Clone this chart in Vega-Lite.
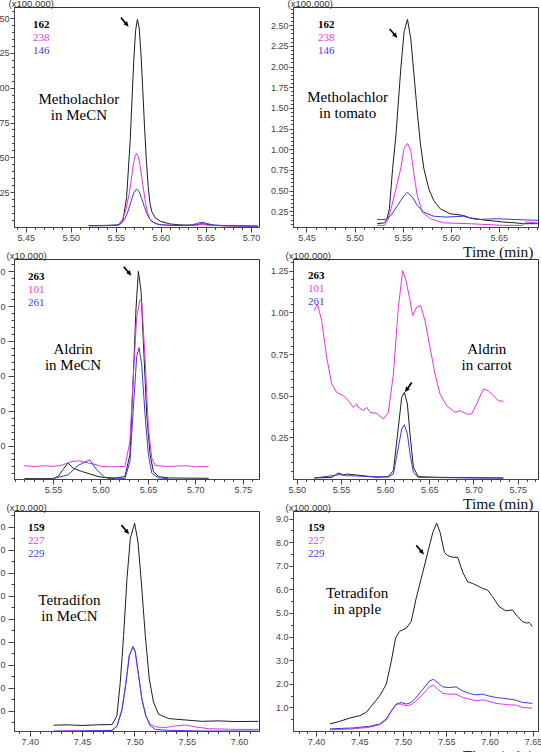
{
"$schema": "https://vega.github.io/schema/vega-lite/v6.json",
"padding": {"left": -10, "top": -3, "right": -2, "bottom": -10},
"background": "white",
"bounds": "flush",
"columns": 2,
"spacing": {"row": 32, "column": 34},
"resolve": {"scale": {"color": "independent"}, "legend": {"color": "independent"}},
"config": {
  "view": {"stroke": "#333", "strokeWidth": 1},
  "axis": {"grid": false, "labelFont": "Liberation Sans", "labelFontSize": 9, "labelColor": "#444", "tickColor": "#444", "domainColor": "#444", "labelFlush": false, "labelOverlap": false, "labelPadding": 1, "tickSize": 4,
    "titleFont": "Liberation Sans", "titleFontSize": 9.5, "titleFontWeight": "normal", "titleColor": "#333"},
  "legend": {"orient": "none", "padding": 0, "symbolSize": 0, "symbolOpacity": 0, "symbolStrokeWidth": 0, "labelOffset": 0, "labelFont": "Liberation Serif", "labelFontSize": 11, "rowPadding": 1}
},
"datasets": {
"p1": [
{"t":5.520,"y":0.010,"ion":"162"},{"t":5.530,"y":0.010,"ion":"162"},{"t":5.540,"y":0.012,"ion":"162"},{"t":5.550,"y":0.014,"ion":"162"},{"t":5.554,"y":0.018,"ion":"162"},{"t":5.558,"y":0.050,"ion":"162"},{"t":5.562,"y":0.210,"ion":"162"},{"t":5.566,"y":0.620,"ion":"162"},{"t":5.568,"y":0.910,"ion":"162"},{"t":5.570,"y":1.200,"ion":"162"},{"t":5.572,"y":1.410,"ion":"162"},{"t":5.574,"y":1.490,"ion":"162"},{"t":5.576,"y":1.430,"ion":"162"},{"t":5.578,"y":1.240,"ion":"162"},{"t":5.580,"y":0.980,"ion":"162"},{"t":5.582,"y":0.710,"ion":"162"},{"t":5.584,"y":0.470,"ion":"162"},{"t":5.586,"y":0.290,"ion":"162"},{"t":5.588,"y":0.170,"ion":"162"},{"t":5.590,"y":0.110,"ion":"162"},{"t":5.594,"y":0.065,"ion":"162"},{"t":5.600,"y":0.040,"ion":"162"},{"t":5.610,"y":0.022,"ion":"162"},{"t":5.620,"y":0.016,"ion":"162"},{"t":5.630,"y":0.013,"ion":"162"},{"t":5.640,"y":0.016,"ion":"162"},{"t":5.645,"y":0.024,"ion":"162"},{"t":5.650,"y":0.020,"ion":"162"},{"t":5.660,"y":0.012,"ion":"162"},{"t":5.680,"y":0.008,"ion":"162"},{"t":5.700,"y":0.006,"ion":"162"},{"t":5.708,"y":0.006,"ion":"162"},
{"t":5.520,"y":0.008,"ion":"238"},{"t":5.540,"y":0.010,"ion":"238"},{"t":5.550,"y":0.012,"ion":"238"},{"t":5.553,"y":0.016,"ion":"238"},{"t":5.557,"y":0.050,"ion":"238"},{"t":5.561,"y":0.120,"ion":"238"},{"t":5.565,"y":0.240,"ion":"238"},{"t":5.567,"y":0.330,"ion":"238"},{"t":5.569,"y":0.426,"ion":"238"},{"t":5.571,"y":0.502,"ion":"238"},{"t":5.573,"y":0.528,"ion":"238"},{"t":5.575,"y":0.506,"ion":"238"},{"t":5.577,"y":0.440,"ion":"238"},{"t":5.579,"y":0.350,"ion":"238"},{"t":5.581,"y":0.260,"ion":"238"},{"t":5.583,"y":0.175,"ion":"238"},{"t":5.585,"y":0.110,"ion":"238"},{"t":5.587,"y":0.068,"ion":"238"},{"t":5.590,"y":0.038,"ion":"238"},{"t":5.595,"y":0.022,"ion":"238"},{"t":5.600,"y":0.015,"ion":"238"},{"t":5.620,"y":0.010,"ion":"238"},{"t":5.640,"y":0.013,"ion":"238"},{"t":5.645,"y":0.018,"ion":"238"},{"t":5.650,"y":0.014,"ion":"238"},{"t":5.670,"y":0.008,"ion":"238"},{"t":5.708,"y":0.005,"ion":"238"},
{"t":5.520,"y":0.010,"ion":"146"},{"t":5.540,"y":0.010,"ion":"146"},{"t":5.552,"y":0.012,"ion":"146"},{"t":5.556,"y":0.025,"ion":"146"},{"t":5.560,"y":0.055,"ion":"146"},{"t":5.564,"y":0.120,"ion":"146"},{"t":5.567,"y":0.185,"ion":"146"},{"t":5.570,"y":0.245,"ion":"146"},{"t":5.573,"y":0.272,"ion":"146"},{"t":5.576,"y":0.255,"ion":"146"},{"t":5.579,"y":0.200,"ion":"146"},{"t":5.582,"y":0.140,"ion":"146"},{"t":5.585,"y":0.090,"ion":"146"},{"t":5.588,"y":0.055,"ion":"146"},{"t":5.592,"y":0.032,"ion":"146"},{"t":5.598,"y":0.018,"ion":"146"},{"t":5.610,"y":0.012,"ion":"146"},{"t":5.625,"y":0.011,"ion":"146"},{"t":5.635,"y":0.015,"ion":"146"},{"t":5.640,"y":0.026,"ion":"146"},{"t":5.645,"y":0.034,"ion":"146"},{"t":5.650,"y":0.028,"ion":"146"},{"t":5.657,"y":0.015,"ion":"146"},{"t":5.670,"y":0.010,"ion":"146"},{"t":5.690,"y":0.008,"ion":"146"},{"t":5.708,"y":0.006,"ion":"146"}
],
"p2": [
{"t":5.5235,"y":0.10,"ion":"162"},{"t":5.531,"y":0.11,"ion":"162"},{"t":5.5335,"y":0.15,"ion":"162"},{"t":5.5362,"y":0.28,"ion":"162"},{"t":5.5396,"y":0.77,"ion":"162"},{"t":5.543,"y":1.17,"ion":"162"},{"t":5.5481,"y":1.98,"ion":"162"},{"t":5.5515,"y":2.42,"ion":"162"},{"t":5.555,"y":2.57,"ion":"162"},{"t":5.5584,"y":2.34,"ion":"162"},{"t":5.5618,"y":1.90,"ion":"162"},{"t":5.5652,"y":1.45,"ion":"162"},{"t":5.5686,"y":1.05,"ion":"162"},{"t":5.572,"y":0.77,"ion":"162"},{"t":5.5772,"y":0.52,"ion":"162"},{"t":5.5823,"y":0.38,"ion":"162"},{"t":5.5891,"y":0.28,"ion":"162"},{"t":5.5994,"y":0.22,"ion":"162"},{"t":5.6131,"y":0.20,"ion":"162"},{"t":5.6199,"y":0.17,"ion":"162"},{"t":5.6268,"y":0.16,"ion":"162"},{"t":5.637,"y":0.14,"ion":"162"},{"t":5.6473,"y":0.13,"ion":"162"},{"t":5.6541,"y":0.12,"ion":"162"},{"t":5.6678,"y":0.11,"ion":"162"},{"t":5.6746,"y":0.10,"ion":"162"},{"t":5.6883,"y":0.10,"ion":"162"},{"t":5.6905,"y":0.10,"ion":"162"},
{"t":5.5235,"y":0.08,"ion":"238"},{"t":5.531,"y":0.08,"ion":"238"},{"t":5.5345,"y":0.14,"ion":"238"},{"t":5.5379,"y":0.28,"ion":"238"},{"t":5.543,"y":0.52,"ion":"238"},{"t":5.5481,"y":0.77,"ion":"238"},{"t":5.5515,"y":1.01,"ion":"238"},{"t":5.555,"y":1.07,"ion":"238"},{"t":5.5584,"y":0.99,"ion":"238"},{"t":5.5618,"y":0.69,"ion":"238"},{"t":5.5652,"y":0.44,"ion":"238"},{"t":5.5703,"y":0.24,"ion":"238"},{"t":5.5789,"y":0.16,"ion":"238"},{"t":5.5926,"y":0.11,"ion":"238"},{"t":5.6199,"y":0.10,"ion":"238"},{"t":5.6541,"y":0.08,"ion":"238"},{"t":5.6746,"y":0.08,"ion":"238"},{"t":5.678,"y":0.12,"ion":"238"},{"t":5.6905,"y":0.11,"ion":"238"},
{"t":5.5235,"y":0.15,"ion":"146"},{"t":5.5327,"y":0.15,"ion":"146"},{"t":5.5379,"y":0.20,"ion":"146"},{"t":5.5447,"y":0.32,"ion":"146"},{"t":5.5515,"y":0.44,"ion":"146"},{"t":5.555,"y":0.48,"ion":"146"},{"t":5.5601,"y":0.42,"ion":"146"},{"t":5.5652,"y":0.32,"ion":"146"},{"t":5.572,"y":0.24,"ion":"146"},{"t":5.5823,"y":0.19,"ion":"146"},{"t":5.596,"y":0.18,"ion":"146"},{"t":5.6131,"y":0.19,"ion":"146"},{"t":5.6268,"y":0.15,"ion":"146"},{"t":5.6473,"y":0.16,"ion":"146"},{"t":5.6678,"y":0.15,"ion":"146"},{"t":5.6905,"y":0.14,"ion":"146"}
],
"p3": [
{"t":5.520,"y":0.05,"ion":"263"},{"t":5.550,"y":0.05,"ion":"263"},{"t":5.5553,"y":0.11,"ion":"263"},{"t":5.5606,"y":0.31,"ion":"263"},{"t":5.5659,"y":0.50,"ion":"263"},{"t":5.5712,"y":0.35,"ion":"263"},{"t":5.580,"y":0.26,"ion":"263"},{"t":5.5976,"y":0.11,"ion":"263"},{"t":5.6117,"y":0.05,"ion":"263"},{"t":5.6258,"y":0.11,"ion":"263"},{"t":5.6311,"y":0.74,"ion":"263"},{"t":5.6347,"y":3.03,"ion":"263"},{"t":5.6375,"y":4.94,"ion":"263"},{"t":5.640,"y":6.00,"ion":"263"},{"t":5.6428,"y":5.42,"ion":"263"},{"t":5.6452,"y":3.98,"ion":"263"},{"t":5.6488,"y":1.88,"ion":"263"},{"t":5.6523,"y":0.74,"ion":"263"},{"t":5.6558,"y":0.26,"ion":"263"},{"t":5.6611,"y":0.11,"ion":"263"},{"t":5.6717,"y":0.07,"ion":"263"},{"t":5.714,"y":0.06,"ion":"263"},
{"t":5.5193,"y":0.42,"ion":"101"},{"t":5.530,"y":0.40,"ion":"101"},{"t":5.540,"y":0.42,"ion":"101"},{"t":5.550,"y":0.40,"ion":"101"},{"t":5.560,"y":0.44,"ion":"101"},{"t":5.5694,"y":0.54,"ion":"101"},{"t":5.5782,"y":0.56,"ion":"101"},{"t":5.5835,"y":0.52,"ion":"101"},{"t":5.5959,"y":0.45,"ion":"101"},{"t":5.6011,"y":0.40,"ion":"101"},{"t":5.6117,"y":0.39,"ion":"101"},{"t":5.6258,"y":0.40,"ion":"101"},{"t":5.6311,"y":1.12,"ion":"101"},{"t":5.6347,"y":3.03,"ion":"101"},{"t":5.6382,"y":4.68,"ion":"101"},{"t":5.6417,"y":5.18,"ion":"101"},{"t":5.6435,"y":5.13,"ion":"101"},{"t":5.647,"y":3.51,"ion":"101"},{"t":5.6505,"y":1.51,"ion":"101"},{"t":5.6541,"y":0.64,"ion":"101"},{"t":5.6576,"y":0.43,"ion":"101"},{"t":5.670,"y":0.40,"ion":"101"},{"t":5.690,"y":0.42,"ion":"101"},{"t":5.700,"y":0.39,"ion":"101"},{"t":5.714,"y":0.40,"ion":"101"},
{"t":5.550,"y":0.05,"ion":"261"},{"t":5.5659,"y":0.16,"ion":"261"},{"t":5.5765,"y":0.43,"ion":"261"},{"t":5.5888,"y":0.59,"ion":"261"},{"t":5.5959,"y":0.31,"ion":"261"},{"t":5.6047,"y":0.09,"ion":"261"},{"t":5.6258,"y":0.05,"ion":"261"},{"t":5.6311,"y":0.54,"ion":"261"},{"t":5.6347,"y":2.07,"ion":"261"},{"t":5.6382,"y":3.55,"ion":"261"},{"t":5.6407,"y":3.81,"ion":"261"},{"t":5.6435,"y":3.31,"ion":"261"},{"t":5.647,"y":1.88,"ion":"261"},{"t":5.6505,"y":0.74,"ion":"261"},{"t":5.6541,"y":0.21,"ion":"261"},{"t":5.6611,"y":0.07,"ion":"261"},{"t":5.6717,"y":0.05,"ion":"261"}
],
"p4": [
{"t":5.520,"y":0.006,"ion":"263"},{"t":5.540,"y":0.010,"ion":"263"},{"t":5.5471,"y":0.036,"ion":"263"},{"t":5.5528,"y":0.025,"ion":"263"},{"t":5.5566,"y":0.030,"ion":"263"},{"t":5.5679,"y":0.024,"ion":"263"},{"t":5.583,"y":0.015,"ion":"263"},{"t":5.5905,"y":0.010,"ion":"263"},{"t":5.6037,"y":0.015,"ion":"263"},{"t":5.6094,"y":0.05,"ion":"263"},{"t":5.615,"y":0.31,"ion":"263"},{"t":5.6188,"y":0.49,"ion":"263"},{"t":5.6218,"y":0.52,"ion":"263"},{"t":5.6252,"y":0.45,"ion":"263"},{"t":5.6282,"y":0.27,"ion":"263"},{"t":5.632,"y":0.07,"ion":"263"},{"t":5.6376,"y":0.014,"ion":"263"},{"t":5.660,"y":0.010,"ion":"263"},{"t":5.700,"y":0.008,"ion":"263"},{"t":5.7338,"y":0.006,"ion":"263"},
{"t":5.520,"y":1.01,"ion":"101"},{"t":5.5234,"y":1.05,"ion":"101"},{"t":5.5283,"y":0.95,"ion":"101"},{"t":5.5339,"y":0.73,"ion":"101"},{"t":5.5396,"y":0.57,"ion":"101"},{"t":5.5452,"y":0.52,"ion":"101"},{"t":5.549,"y":0.51,"ion":"101"},{"t":5.5528,"y":0.50,"ion":"101"},{"t":5.5584,"y":0.47,"ion":"101"},{"t":5.5641,"y":0.43,"ion":"101"},{"t":5.5679,"y":0.45,"ion":"101"},{"t":5.5698,"y":0.43,"ion":"101"},{"t":5.5754,"y":0.41,"ion":"101"},{"t":5.5792,"y":0.43,"ion":"101"},{"t":5.583,"y":0.40,"ion":"101"},{"t":5.5905,"y":0.394,"ion":"101"},{"t":5.598,"y":0.36,"ion":"101"},{"t":5.6037,"y":0.40,"ion":"101"},{"t":5.6094,"y":0.63,"ion":"101"},{"t":5.615,"y":1.03,"ion":"101"},{"t":5.6199,"y":1.25,"ion":"101"},{"t":5.6237,"y":1.19,"ion":"101"},{"t":5.6275,"y":1.09,"ion":"101"},{"t":5.6312,"y":0.98,"ion":"101"},{"t":5.6357,"y":1.03,"ion":"101"},{"t":5.6403,"y":1.04,"ion":"101"},{"t":5.6452,"y":0.95,"ion":"101"},{"t":5.6508,"y":0.79,"ion":"101"},{"t":5.6565,"y":0.63,"ion":"101"},{"t":5.6621,"y":0.51,"ion":"101"},{"t":5.6697,"y":0.44,"ion":"101"},{"t":5.6791,"y":0.40,"ion":"101"},{"t":5.6848,"y":0.41,"ion":"101"},{"t":5.6923,"y":0.39,"ion":"101"},{"t":5.698,"y":0.39,"ion":"101"},{"t":5.7036,"y":0.45,"ion":"101"},{"t":5.7112,"y":0.54,"ion":"101"},{"t":5.7168,"y":0.53,"ion":"101"},{"t":5.7225,"y":0.50,"ion":"101"},{"t":5.7281,"y":0.47,"ion":"101"},{"t":5.7338,"y":0.466,"ion":"101"},
{"t":5.520,"y":0.006,"ion":"261"},{"t":5.549,"y":0.026,"ion":"261"},{"t":5.5566,"y":0.020,"ion":"261"},{"t":5.5679,"y":0.018,"ion":"261"},{"t":5.583,"y":0.014,"ion":"261"},{"t":5.6037,"y":0.012,"ion":"261"},{"t":5.6094,"y":0.03,"ion":"261"},{"t":5.615,"y":0.19,"ion":"261"},{"t":5.6188,"y":0.30,"ion":"261"},{"t":5.6218,"y":0.326,"ion":"261"},{"t":5.6252,"y":0.27,"ion":"261"},{"t":5.6282,"y":0.15,"ion":"261"},{"t":5.632,"y":0.04,"ion":"261"},{"t":5.6376,"y":0.010,"ion":"261"},{"t":5.700,"y":0.006,"ion":"261"},{"t":5.7338,"y":0.005,"ion":"261"}
],
"p5": [
{"t":7.4229,"y":0.38,"ion":"159"},{"t":7.435,"y":0.40,"ion":"159"},{"t":7.450,"y":0.37,"ion":"159"},{"t":7.465,"y":0.40,"ion":"159"},{"t":7.4786,"y":0.41,"ion":"159"},{"t":7.4833,"y":0.79,"ion":"159"},{"t":7.4865,"y":2.24,"ion":"159"},{"t":7.4897,"y":4.28,"ion":"159"},{"t":7.4929,"y":6.75,"ion":"159"},{"t":7.4961,"y":8.50,"ion":"159"},{"t":7.5002,"y":9.16,"ion":"159"},{"t":7.5034,"y":8.36,"ion":"159"},{"t":7.5066,"y":6.60,"ion":"159"},{"t":7.5104,"y":4.28,"ion":"159"},{"t":7.5142,"y":2.39,"ion":"159"},{"t":7.5183,"y":1.37,"ion":"159"},{"t":7.5231,"y":0.86,"ion":"159"},{"t":7.5326,"y":0.67,"ion":"159"},{"t":7.5485,"y":0.61,"ion":"159"},{"t":7.5644,"y":0.55,"ion":"159"},{"t":7.580,"y":0.57,"ion":"159"},{"t":7.5962,"y":0.54,"ion":"159"},{"t":7.6185,"y":0.55,"ion":"159"},
{"t":7.4229,"y":0.13,"ion":"227"},{"t":7.450,"y":0.14,"ion":"227"},{"t":7.4786,"y":0.16,"ion":"227"},{"t":7.4833,"y":0.35,"ion":"227"},{"t":7.4881,"y":1.08,"ion":"227"},{"t":7.4919,"y":2.24,"ion":"227"},{"t":7.4951,"y":3.41,"ion":"227"},{"t":7.4986,"y":3.77,"ion":"227"},{"t":7.5008,"y":3.55,"ion":"227"},{"t":7.504,"y":2.53,"ion":"227"},{"t":7.5072,"y":1.51,"ion":"227"},{"t":7.511,"y":0.79,"ion":"227"},{"t":7.5151,"y":0.42,"ion":"227"},{"t":7.5199,"y":0.31,"ion":"227"},{"t":7.5295,"y":0.28,"ion":"227"},{"t":7.539,"y":0.35,"ion":"227"},{"t":7.5485,"y":0.39,"ion":"227"},{"t":7.5581,"y":0.31,"ion":"227"},{"t":7.5708,"y":0.23,"ion":"227"},{"t":7.5962,"y":0.20,"ion":"227"},{"t":7.6185,"y":0.20,"ion":"227"},
{"t":7.4229,"y":0.12,"ion":"229"},{"t":7.450,"y":0.13,"ion":"229"},{"t":7.4786,"y":0.15,"ion":"229"},{"t":7.4833,"y":0.33,"ion":"229"},{"t":7.4881,"y":1.02,"ion":"229"},{"t":7.4919,"y":2.20,"ion":"229"},{"t":7.4951,"y":3.40,"ion":"229"},{"t":7.4986,"y":3.81,"ion":"229"},{"t":7.5008,"y":3.60,"ion":"229"},{"t":7.504,"y":2.55,"ion":"229"},{"t":7.5072,"y":1.50,"ion":"229"},{"t":7.511,"y":0.76,"ion":"229"},{"t":7.5151,"y":0.36,"ion":"229"},{"t":7.5199,"y":0.20,"ion":"229"},{"t":7.5326,"y":0.16,"ion":"229"},{"t":7.5644,"y":0.13,"ion":"229"},{"t":7.6185,"y":0.13,"ion":"229"}
],
"p6": [
{"t":7.416,"y":0.30,"ion":"159"},{"t":7.4275,"y":0.41,"ion":"159"},{"t":7.439,"y":0.55,"ion":"159"},{"t":7.4505,"y":0.65,"ion":"159"},{"t":7.458,"y":0.79,"ion":"159"},{"t":7.4657,"y":1.14,"ion":"159"},{"t":7.4734,"y":1.49,"ion":"159"},{"t":7.481,"y":1.98,"ion":"159"},{"t":7.4868,"y":2.96,"ion":"159"},{"t":7.4917,"y":3.94,"ion":"159"},{"t":7.4963,"y":4.22,"ion":"159"},{"t":7.5002,"y":4.29,"ion":"159"},{"t":7.504,"y":4.36,"ion":"159"},{"t":7.5097,"y":4.64,"ion":"159"},{"t":7.5154,"y":5.62,"ion":"159"},{"t":7.5231,"y":6.73,"ion":"159"},{"t":7.5288,"y":7.57,"ion":"159"},{"t":7.5346,"y":8.41,"ion":"159"},{"t":7.5391,"y":8.81,"ion":"159"},{"t":7.543,"y":8.41,"ion":"159"},{"t":7.5479,"y":7.57,"ion":"159"},{"t":7.5518,"y":7.43,"ion":"159"},{"t":7.5575,"y":7.36,"ion":"159"},{"t":7.5632,"y":7.36,"ion":"159"},{"t":7.569,"y":6.73,"ion":"159"},{"t":7.5747,"y":6.32,"ion":"159"},{"t":7.5804,"y":6.25,"ion":"159"},{"t":7.5862,"y":6.15,"ion":"159"},{"t":7.5919,"y":6.04,"ion":"159"},{"t":7.5976,"y":5.97,"ion":"159"},{"t":7.6034,"y":5.69,"ion":"159"},{"t":7.611,"y":5.27,"ion":"159"},{"t":7.6187,"y":5.09,"ion":"159"},{"t":7.6263,"y":5.13,"ion":"159"},{"t":7.632,"y":4.85,"ion":"159"},{"t":7.6378,"y":4.64,"ion":"159"},{"t":7.6424,"y":4.57,"ion":"159"},{"t":7.6454,"y":4.60,"ion":"159"},{"t":7.6492,"y":4.43,"ion":"159"},
{"t":7.416,"y":0.05,"ion":"227"},{"t":7.4428,"y":0.09,"ion":"227"},{"t":7.4619,"y":0.16,"ion":"227"},{"t":7.4734,"y":0.27,"ion":"227"},{"t":7.481,"y":0.47,"ion":"227"},{"t":7.4868,"y":0.83,"ion":"227"},{"t":7.4925,"y":1.14,"ion":"227"},{"t":7.4982,"y":1.14,"ion":"227"},{"t":7.504,"y":1.07,"ion":"227"},{"t":7.5097,"y":1.11,"ion":"227"},{"t":7.5154,"y":1.28,"ion":"227"},{"t":7.5231,"y":1.56,"ion":"227"},{"t":7.5307,"y":1.87,"ion":"227"},{"t":7.5353,"y":1.94,"ion":"227"},{"t":7.5403,"y":1.77,"ion":"227"},{"t":7.546,"y":1.59,"ion":"227"},{"t":7.5537,"y":1.56,"ion":"227"},{"t":7.5613,"y":1.56,"ion":"227"},{"t":7.569,"y":1.42,"ion":"227"},{"t":7.5766,"y":1.35,"ion":"227"},{"t":7.5842,"y":1.28,"ion":"227"},{"t":7.5919,"y":1.32,"ion":"227"},{"t":7.5995,"y":1.25,"ion":"227"},{"t":7.6072,"y":1.17,"ion":"227"},{"t":7.6148,"y":1.14,"ion":"227"},{"t":7.6225,"y":1.11,"ion":"227"},{"t":7.6301,"y":1.10,"ion":"227"},{"t":7.6378,"y":1.00,"ion":"227"},{"t":7.6492,"y":0.97,"ion":"227"},
{"t":7.416,"y":0.09,"ion":"229"},{"t":7.4428,"y":0.13,"ion":"229"},{"t":7.4619,"y":0.20,"ion":"229"},{"t":7.4734,"y":0.30,"ion":"229"},{"t":7.481,"y":0.51,"ion":"229"},{"t":7.4868,"y":0.86,"ion":"229"},{"t":7.4925,"y":1.14,"ion":"229"},{"t":7.4982,"y":1.21,"ion":"229"},{"t":7.504,"y":1.14,"ion":"229"},{"t":7.5097,"y":1.21,"ion":"229"},{"t":7.5154,"y":1.42,"ion":"229"},{"t":7.5231,"y":1.77,"ion":"229"},{"t":7.5307,"y":2.12,"ion":"229"},{"t":7.5353,"y":2.19,"ion":"229"},{"t":7.5403,"y":2.05,"ion":"229"},{"t":7.546,"y":1.87,"ion":"229"},{"t":7.5537,"y":1.84,"ion":"229"},{"t":7.5613,"y":1.87,"ion":"229"},{"t":7.569,"y":1.70,"ion":"229"},{"t":7.5766,"y":1.59,"ion":"229"},{"t":7.5842,"y":1.53,"ion":"229"},{"t":7.5919,"y":1.56,"ion":"229"},{"t":7.5995,"y":1.48,"ion":"229"},{"t":7.6072,"y":1.42,"ion":"229"},{"t":7.6148,"y":1.39,"ion":"229"},{"t":7.6225,"y":1.35,"ion":"229"},{"t":7.6301,"y":1.31,"ion":"229"},{"t":7.6378,"y":1.21,"ion":"229"},{"t":7.6492,"y":1.17,"ion":"229"}
]
},
"concat": [
{
 "width": 245, "height": 220, "data": {"name": "p1"},
 "resolve": {"axis": {"x": "independent", "y": "independent"}},
 "layer": [
  {"mark": {"type": "line", "strokeWidth": 1, "clip": true},
   "encoding": {
    "x": {"field": "t", "type": "quantitative", "scale": {"domain": [5.437, 5.709], "nice": false, "zero": false},
      "axis": {"orient": "bottom", "values": [5.45,5.5,5.55,5.6,5.65,5.7], "format": ".2f", "title": null, "tickSize": 5}},
    "y": {"field": "y", "type": "quantitative", "scale": {"domain": [0, 1.579], "nice": false, "zero": false},
      "axis": {"orient": "left", "values": [0.25,0.5,0.75,1,1.25,1.5], "format": ".2f", "title": "(x100,000)", "titleAngle": 0, "titleX": -6, "titleY": -1, "titleAlign": "left", "titleBaseline": "alphabetic"}},
    "color": {"field": "ion", "type": "nominal", "scale": {"domain": ["162","238","146"], "range": ["#1e1e1e","#e433e4","#3b3bd9"]},
      "legend": {"title": null, "orient": "none", "legendX": 8, "legendY": 12, "encode": {"labels": {"update": {"fill": {"signal": "datum.index === 0 ? '#000000' : datum.index === 1 ? '#e040e0' : '#4040d8'"}, "fontWeight": {"signal": "datum.index === 0 ? 'bold' : 'normal'"}}}}}}
   }},
  {"data": {"values": [{}]},
   "mark": {"type": "point", "shape": "arrow", "filled": true, "size": 140, "angle": 140, "color": "#000", "opacity": 1},
   "encoding": {
    "x": {"datum": 5.56, "type": "quantitative", "axis": {"orient": "bottom", "values": [5.44,5.45,5.46,5.47,5.48,5.49,5.5,5.51,5.52,5.53,5.54,5.55,5.56,5.57,5.58,5.59,5.6,5.61,5.62,5.63,5.64,5.65,5.66,5.67,5.68,5.69,5.7], "labels": false, "domain": false, "tickSize": 2.5, "title": null}},
    "y": {"datum": 1.47, "type": "quantitative", "axis": {"orient": "left", "values": [0.05,0.1,0.15,0.2,0.25,0.3,0.35,0.4,0.45,0.5,0.55,0.6,0.65,0.7,0.75,0.8,0.85,0.9,0.95,1,1.05,1.1,1.15,1.2,1.25,1.3,1.35,1.4,1.45,1.5,1.55], "labels": false, "domain": false, "tickSize": 2.5, "title": null}}
   }},
  {"data": {"values": [{}]},
   "mark": {"type": "text", "font": "Liberation Serif", "fontSize": 15, "lineHeight": 16, "align": "center", "baseline": "middle", "color": "#000"},
   "encoding": {
    "x": {"datum": 5.509, "type": "quantitative", "axis": null},
    "y": {"datum": 0.92, "type": "quantitative", "axis": null},
    "text": {"value": ["Metholachlor", "in MeCN"]}
   }}
 ]
},
{
 "width": 245, "height": 220, "data": {"name": "p2"},
 "resolve": {"axis": {"x": "independent", "y": "independent"}},
 "layer": [
  {"mark": {"type": "line", "strokeWidth": 1, "clip": true},
   "encoding": {
    "x": {"field": "t", "type": "quantitative", "scale": {"domain": [5.436, 5.6907], "nice": false, "zero": false},
      "axis": {"orient": "bottom", "values": [5.45,5.5,5.55,5.6,5.65], "format": ".2f", "tickSize": 5, "title": "Time (min)", "titleFont": "Liberation Serif", "titleFontSize": 15.5, "titleColor": "#111", "titleX": 240, "titleY": 29, "titleAlign": "right", "titleBaseline": "alphabetic", "titleAngle": 0}},
    "y": {"field": "y", "type": "quantitative", "scale": {"domain": [0.06, 2.72], "nice": false, "zero": false},
      "axis": {"orient": "left", "values": [0.25,0.5,0.75,1,1.25,1.5,1.75,2,2.25,2.5], "format": ".2f", "title": "(x100,000)", "titleAngle": 0, "titleX": -6, "titleY": -1, "titleAlign": "left", "titleBaseline": "alphabetic"}},
    "color": {"field": "ion", "type": "nominal", "scale": {"domain": ["162","238","146"], "range": ["#1e1e1e","#e433e4","#3b3bd9"]},
      "legend": {"title": null, "orient": "none", "legendX": 14, "legendY": 12, "encode": {"labels": {"update": {"fill": {"signal": "datum.index === 0 ? '#000000' : datum.index === 1 ? '#e040e0' : '#4040d8'"}, "fontWeight": {"signal": "datum.index === 0 ? 'bold' : 'normal'"}}}}}}
   }},
  {"data": {"values": [{}]},
   "mark": {"type": "point", "shape": "arrow", "filled": true, "size": 140, "angle": 140, "color": "#000", "opacity": 1},
   "encoding": {
    "x": {"datum": 5.5405, "type": "quantitative", "axis": {"orient": "bottom", "values": [5.44,5.45,5.46,5.47,5.48,5.49,5.5,5.51,5.52,5.53,5.54,5.55,5.56,5.57,5.58,5.59,5.6,5.61,5.62,5.63,5.64,5.65,5.66,5.67,5.68,5.69], "labels": false, "domain": false, "tickSize": 2.5, "title": null}},
    "y": {"datum": 2.40, "type": "quantitative", "axis": {"orient": "left", "values": [0.1,0.15,0.2,0.25,0.3,0.35,0.4,0.45,0.5,0.55,0.6,0.65,0.7,0.75,0.8,0.85,0.9,0.95,1,1.05,1.1,1.15,1.2,1.25,1.3,1.35,1.4,1.45,1.5,1.55,1.6,1.65,1.7,1.75,1.8,1.85,1.9,1.95,2,2.05,2.1,2.15,2.2,2.25,2.3,2.35,2.4,2.45,2.5,2.55,2.6,2.65,2.7], "labels": false, "domain": false, "tickSize": 2.5, "title": null}}
   }},
  {"data": {"values": [{}]},
   "mark": {"type": "text", "font": "Liberation Serif", "fontSize": 15, "lineHeight": 16, "align": "center", "baseline": "middle", "color": "#000"},
   "encoding": {
    "x": {"datum": 5.4928, "type": "quantitative", "axis": null},
    "y": {"datum": 1.63, "type": "quantitative", "axis": null},
    "text": {"value": ["Metholachlor", "in tomato"]}
   }}
 ]
},
{
 "width": 245, "height": 220, "data": {"name": "p3"},
 "resolve": {"axis": {"x": "independent", "y": "independent"}},
 "layer": [
  {"mark": {"type": "line", "strokeWidth": 1, "clip": true},
   "encoding": {
    "x": {"field": "t", "type": "quantitative", "scale": {"domain": [5.509, 5.767], "nice": false, "zero": false},
      "axis": {"orient": "bottom", "values": [5.55,5.6,5.65,5.7,5.75], "format": ".2f", "title": null, "tickSize": 5}},
    "y": {"field": "y", "type": "quantitative", "scale": {"domain": [0.04, 6.35], "nice": false, "zero": false},
      "axis": {"orient": "left", "values": [1,2,3,4,5,6], "format": ".1f", "tickSize": 6, "labelPadding": 3, "title": "(x10,000)", "titleAngle": 0, "titleX": -8, "titleY": -1, "titleAlign": "left", "titleBaseline": "alphabetic"}},
    "color": {"field": "ion", "type": "nominal", "scale": {"domain": ["263","101","261"], "range": ["#1e1e1e","#e433e4","#3b3bd9"]},
      "legend": {"title": null, "orient": "none", "legendX": 3, "legendY": 12, "encode": {"labels": {"update": {"fill": {"signal": "datum.index === 0 ? '#000000' : datum.index === 1 ? '#e040e0' : '#4040d8'"}, "fontWeight": {"signal": "datum.index === 0 ? 'bold' : 'normal'"}}}}}}
   }},
  {"data": {"values": [{}]},
   "mark": {"type": "point", "shape": "arrow", "filled": true, "size": 140, "angle": 140, "color": "#000", "opacity": 1},
   "encoding": {
    "x": {"datum": 5.6286, "type": "quantitative", "axis": {"orient": "bottom", "values": [5.51,5.52,5.53,5.54,5.55,5.56,5.57,5.58,5.59,5.6,5.61,5.62,5.63,5.64,5.65,5.66,5.67,5.68,5.69,5.7,5.71,5.72,5.73,5.74,5.75,5.76], "labels": false, "domain": false, "tickSize": 2.5, "title": null}},
    "y": {"datum": 6.0, "type": "quantitative", "axis": {"orient": "left", "values": [0.2,0.4,0.6,0.8,1,1.2,1.4,1.6,1.8,2,2.2,2.4,2.6,2.8,3,3.2,3.4,3.6,3.8,4,4.2,4.4,4.6,4.8,5,5.2,5.4,5.6,5.8,6,6.2], "labels": false, "domain": false, "tickSize": 3, "title": null}}
   }},
  {"data": {"values": [{}]},
   "mark": {"type": "text", "font": "Liberation Serif", "fontSize": 15, "lineHeight": 16, "align": "center", "baseline": "middle", "color": "#000"},
   "encoding": {
    "x": {"datum": 5.5712, "type": "quantitative", "axis": null},
    "y": {"datum": 3.77, "type": "quantitative", "axis": null},
    "text": {"value": ["Aldrin", "in MeCN"]}
   }}
 ]
},
{
 "width": 245, "height": 220, "data": {"name": "p4"},
 "resolve": {"axis": {"x": "independent", "y": "independent"}},
 "layer": [
  {"mark": {"type": "line", "strokeWidth": 1, "clip": true},
   "encoding": {
    "x": {"field": "t", "type": "quantitative", "scale": {"domain": [5.4958, 5.773], "nice": false, "zero": false},
      "axis": {"orient": "bottom", "values": [5.5,5.55,5.6,5.65,5.7,5.75], "format": ".2f", "tickSize": 5, "title": "Time (min)", "titleFont": "Liberation Serif", "titleFontSize": 15.5, "titleColor": "#111", "titleX": 240, "titleY": 29, "titleAlign": "right", "titleBaseline": "alphabetic", "titleAngle": 0}},
    "y": {"field": "y", "type": "quantitative", "scale": {"domain": [0, 1.32], "nice": false, "zero": false},
      "axis": {"orient": "left", "values": [0.25,0.5,0.75,1,1.25], "format": ".2f", "title": "(x100,000)", "titleAngle": 0, "titleX": -8, "titleY": -1, "titleAlign": "left", "titleBaseline": "alphabetic"}},
    "color": {"field": "ion", "type": "nominal", "scale": {"domain": ["263","101","261"], "range": ["#1e1e1e","#e433e4","#3b3bd9"]},
      "legend": {"title": null, "orient": "none", "legendX": 4, "legendY": 11, "encode": {"labels": {"update": {"fill": {"signal": "datum.index === 0 ? '#000000' : datum.index === 1 ? '#e040e0' : '#4040d8'"}, "fontWeight": {"signal": "datum.index === 0 ? 'bold' : 'normal'"}}}}}}
   }},
  {"data": {"values": [{}]},
   "mark": {"type": "point", "shape": "arrow", "filled": true, "size": 140, "angle": 215, "color": "#000", "opacity": 1},
   "encoding": {
    "x": {"datum": 5.6263, "type": "quantitative", "axis": {"orient": "bottom", "values": [5.5,5.51,5.52,5.53,5.54,5.55,5.56,5.57,5.58,5.59,5.6,5.61,5.62,5.63,5.64,5.65,5.66,5.67,5.68,5.69,5.7,5.71,5.72,5.73,5.74,5.75,5.76,5.77], "labels": false, "domain": false, "tickSize": 2.5, "title": null}},
    "y": {"datum": 0.55, "type": "quantitative", "axis": {"orient": "left", "values": [0.05,0.1,0.15,0.2,0.25,0.3,0.35,0.4,0.45,0.5,0.55,0.6,0.65,0.7,0.75,0.8,0.85,0.9,0.95,1,1.05,1.1,1.15,1.2,1.25,1.3], "labels": false, "domain": false, "tickSize": 2.5, "title": null}}
   }},
  {"data": {"values": [{}]},
   "mark": {"type": "text", "font": "Liberation Serif", "fontSize": 15, "lineHeight": 16, "align": "center", "baseline": "middle", "color": "#000"},
   "encoding": {
    "x": {"datum": 5.715, "type": "quantitative", "axis": null},
    "y": {"datum": 0.78, "type": "quantitative", "axis": null},
    "text": {"value": ["Aldrin", "in carrot"]}
   }}
 ]
},
{
 "width": 245, "height": 220, "data": {"name": "p5"},
 "resolve": {"axis": {"x": "independent", "y": "independent"}},
 "layer": [
  {"mark": {"type": "line", "strokeWidth": 1, "clip": true},
   "encoding": {
    "x": {"field": "t", "type": "quantitative", "scale": {"domain": [7.385, 7.619], "nice": false, "zero": false},
      "axis": {"orient": "bottom", "values": [7.4,7.45,7.5,7.55,7.6], "format": ".2f", "title": null, "tickSize": 5}},
    "y": {"field": "y", "type": "quantitative", "scale": {"domain": [0.13, 9.69], "nice": false, "zero": false},
      "axis": {"orient": "left", "values": [1,2,3,4,5,6,7,8,9], "format": ".1f", "tickSize": 6, "labelPadding": 3, "title": "(x10,000)", "titleAngle": 0, "titleX": -8, "titleY": -1, "titleAlign": "left", "titleBaseline": "alphabetic"}},
    "color": {"field": "ion", "type": "nominal", "scale": {"domain": ["159","227","229"], "range": ["#1e1e1e","#e433e4","#3b3bd9"]},
      "legend": {"title": null, "orient": "none", "legendX": 3, "legendY": 11, "encode": {"labels": {"update": {"fill": {"signal": "datum.index === 0 ? '#000000' : datum.index === 1 ? '#e040e0' : '#4040d8'"}, "fontWeight": {"signal": "datum.index === 0 ? 'bold' : 'normal'"}}}}}}
   }},
  {"data": {"values": [{}]},
   "mark": {"type": "point", "shape": "arrow", "filled": true, "size": 140, "angle": 140, "color": "#000", "opacity": 1},
   "encoding": {
    "x": {"datum": 7.4913, "type": "quantitative", "axis": {"orient": "bottom", "values": [7.39,7.4,7.41,7.42,7.43,7.44,7.45,7.46,7.47,7.48,7.49,7.5,7.51,7.52,7.53,7.54,7.55,7.56,7.57,7.58,7.59,7.6,7.61], "labels": false, "domain": false, "tickSize": 2.5, "title": null}},
    "y": {"datum": 8.88, "type": "quantitative", "axis": {"orient": "left", "values": [0.5,1,1.5,2,2.5,3,3.5,4,4.5,5,5.5,6,6.5,7,7.5,8,8.5,9,9.5], "labels": false, "domain": false, "tickSize": 3, "title": null}}
   }},
  {"data": {"values": [{}]},
   "mark": {"type": "text", "font": "Liberation Serif", "fontSize": 15, "lineHeight": 16, "align": "center", "baseline": "middle", "color": "#000"},
   "encoding": {
    "x": {"datum": 7.438, "type": "quantitative", "axis": null},
    "y": {"datum": 5.81, "type": "quantitative", "axis": null},
    "text": {"value": ["Tetradifon", "in MeCN"]}
   }}
 ]
},
{
 "width": 245, "height": 220, "data": {"name": "p6"},
 "resolve": {"axis": {"x": "independent", "y": "independent"}},
 "layer": [
  {"mark": {"type": "line", "strokeWidth": 1, "clip": true},
   "encoding": {
    "x": {"field": "t", "type": "quantitative", "scale": {"domain": [7.3736, 7.6557], "nice": false, "zero": false},
      "axis": {"orient": "bottom", "values": [7.4,7.45,7.5,7.55,7.6,7.65], "format": ".2f", "tickSize": 5, "title": "Time (min)", "titleFont": "Liberation Serif", "titleFontSize": 15.5, "titleColor": "#111", "titleX": 240, "titleY": 29, "titleAlign": "right", "titleBaseline": "alphabetic", "titleAngle": 0}},
    "y": {"field": "y", "type": "quantitative", "scale": {"domain": [0, 9.32], "nice": false, "zero": false},
      "axis": {"orient": "left", "values": [1,2,3,4,5,6,7,8,9], "format": ".1f", "title": "(x100,000)", "titleAngle": 0, "titleX": -8, "titleY": -1, "titleAlign": "left", "titleBaseline": "alphabetic"}},
    "color": {"field": "ion", "type": "nominal", "scale": {"domain": ["159","227","229"], "range": ["#1e1e1e","#e433e4","#3b3bd9"]},
      "legend": {"title": null, "orient": "none", "legendX": 4, "legendY": 11, "encode": {"labels": {"update": {"fill": {"signal": "datum.index === 0 ? '#000000' : datum.index === 1 ? '#e040e0' : '#4040d8'"}, "fontWeight": {"signal": "datum.index === 0 ? 'bold' : 'normal'"}}}}}}
   }},
  {"data": {"values": [{}]},
   "mark": {"type": "point", "shape": "arrow", "filled": true, "size": 140, "angle": 140, "color": "#000", "opacity": 1},
   "encoding": {
    "x": {"datum": 7.52, "type": "quantitative", "axis": {"orient": "bottom", "values": [7.38,7.39,7.4,7.41,7.42,7.43,7.44,7.45,7.46,7.47,7.48,7.49,7.5,7.51,7.52,7.53,7.54,7.55,7.56,7.57,7.58,7.59,7.6,7.61,7.62,7.63,7.64,7.65], "labels": false, "domain": false, "tickSize": 2.5, "title": null}},
    "y": {"datum": 7.67, "type": "quantitative", "axis": {"orient": "left", "values": [0.5,1,1.5,2,2.5,3,3.5,4,4.5,5,5.5,6,6.5,7,7.5,8,8.5,9], "labels": false, "domain": false, "tickSize": 2.5, "title": null}}
   }},
  {"data": {"values": [{}]},
   "mark": {"type": "text", "font": "Liberation Serif", "fontSize": 15, "lineHeight": 16, "align": "center", "baseline": "middle", "color": "#000"},
   "encoding": {
    "x": {"datum": 7.4474, "type": "quantitative", "axis": null},
    "y": {"datum": 5.84, "type": "quantitative", "axis": null},
    "text": {"value": ["Tetradifon", "in apple"]}
   }}
 ]
}
]
}
